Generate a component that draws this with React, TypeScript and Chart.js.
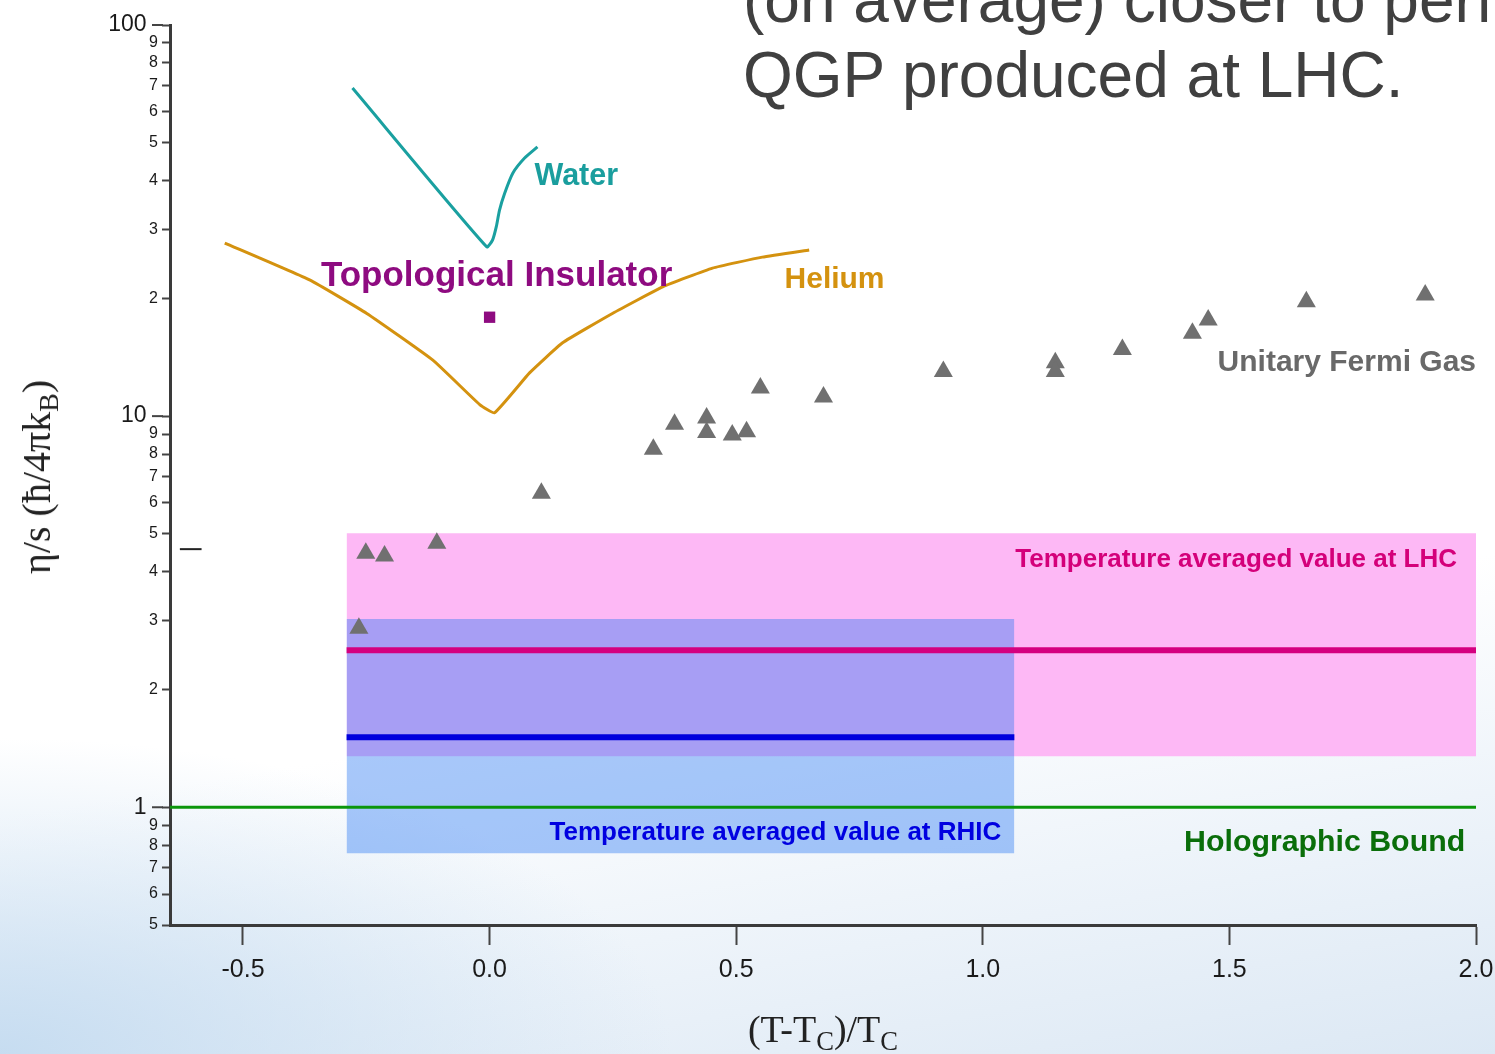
import React, { useEffect, useRef } from "react";
import { Chart, registerables } from "chart.js";

Chart.register(...registerables);

// ---------------- axes ----------------
const xRange = [-0.648, 2.0];
const yRange = [0.5, 100];
const xTickValues = [-0.5, 0.0, 0.5, 1.0, 1.5, 2.0];
const yTickValues = [0.5, 0.6, 0.7, 0.8, 0.9, 1, 2, 3, 4, 5, 6, 7, 8, 9, 10, 20, 30, 40, 50, 60, 70, 80, 90, 100];
const yMajorValues = [1, 10, 100];

// ---------------- series ----------------
const heliumX = [-0.537, -0.365, -0.249, -0.115, -0.02, 0.01, 0.081, 0.148, 0.249, 0.351, 0.452, 0.553, 0.648];
const heliumY = [27.7, 22.3, 18.3, 13.9, 10.7, 10.2, 12.9, 15.4, 18.3, 21.4, 23.9, 25.5, 26.6];

const waterX = [-0.278, -0.006, 0.006, 0.0136, 0.02, 0.0304, 0.047, 0.071, 0.097];
const waterY = [69.0, 27.1, 28.2, 30.5, 33.6, 37.1, 41.8, 45.7, 48.8];

const fermiX = [-0.265, -0.251, -0.213, -0.107, 0.105, 0.332, 0.375, 0.44, 0.44, 0.492, 0.521, 0.549, 0.677, 0.92, 1.147, 1.147, 1.283, 1.425, 1.457, 1.656, 1.897];
const fermiY = [2.87, 4.46, 4.39, 4.73, 6.35, 8.23, 9.54, 9.89, 9.08, 8.95, 9.12, 11.8, 11.2, 13.0, 13.7, 13.0, 14.8, 16.3, 17.6, 19.6, 20.4];

const topoX = [0.0];
const topoY = [17.9];

const lhcBandX = [-0.29, 2.0];
const lhcBandY = [1.35, 5.02]; // bottom, top
const lhcMean = 2.52;

const rhicBandX = [-0.29, 1.064];
const rhicBandY = [0.763, 3.03]; // bottom, top
const rhicMean = 1.51;

const holoBound = 1.0;

const refMarkX = [-0.628, -0.584];
const refMarkY = 4.57;

// ---------------- text labels ----------------
const labelTexts = [
  "Water",
  "Topological Insulator",
  "Helium",
  "Unitary Fermi Gas",
  "Temperature averaged value at LHC",
  "Temperature averaged value at RHIC",
  "Holographic Bound",
];
// anchor (data coordinates) and style for each label
const labelLayout = [
  { x: 0.091, y: 41.0, align: "left", size: 30.5, color: "#1A9E9E" },
  { x: 0.0142, y: 22.8, align: "center", size: 35, color: "#8E0B80" },
  { x: 0.598, y: 22.3, align: "left", size: 30, color: "#D4920F" },
  { x: 2.0, y: 13.66, align: "right", size: 30, color: "#696969" },
  { x: 1.9615, y: 4.28, align: "right", size: 26, color: "#D4007A" },
  { x: 1.0375, y: 0.858, align: "right", size: 26, color: "#0000E0" },
  { x: 1.978, y: 0.814, align: "right", size: 30.3, color: "#0A6E0A" },
];

const FONT = '"Liberation Sans", Arial, Helvetica, sans-serif';
const SERIF = '"Liberation Serif", "Times New Roman", Times, serif';

const pts = (xs: number[], ys: number[]) => xs.map((x, i) => ({ x, y: ys[i] }));
const hline = (xs: number[], y: number) => xs.map((x) => ({ x, y }));

const annotationPlugin = {
  id: "annotations",
  afterDatasetsDraw(chart: any) {
    const { ctx, chartArea, scales } = chart;
    const xs = scales.x;
    const ys = scales.y;
    ctx.save();
    // longer major ticks on the y axis
    ctx.strokeStyle = "#444";
    ctx.lineWidth = 2;
    yMajorValues.forEach((v) => {
      const py = ys.getPixelForValue(v);
      ctx.beginPath();
      ctx.moveTo(chartArea.left - 18, py);
      ctx.lineTo(chartArea.left - 7, py);
      ctx.stroke();
    });
    // labels
    labelTexts.forEach((t, i) => {
      const l = labelLayout[i];
      ctx.font = `bold ${l.size}px ${FONT}`;
      ctx.fillStyle = l.color;
      ctx.textAlign = l.align;
      ctx.textBaseline = "middle";
      ctx.fillText(t, xs.getPixelForValue(l.x), ys.getPixelForValue(l.y));
    });
    ctx.restore();
  },
};

export default function App() {
  const ref = useRef<HTMLCanvasElement>(null);

  useEffect(() => {
    const canvas = ref.current;
    if (!canvas) return;
    const transparent = "rgba(0,0,0,0)";
    const chart = new Chart(canvas, {
      type: "scatter",
      data: {
        datasets: [
          {
            label: "Unitary Fermi Gas",
            data: pts(fermiX, fermiY),
            pointStyle: "triangle",
            pointRadius: 11,
            pointHoverRadius: 11,
            pointBackgroundColor: "#707070",
            pointBorderColor: "#707070",
            pointBorderWidth: 0,
            showLine: false,
            order: 1,
          },
          {
            label: "Topological Insulator",
            data: pts(topoX, topoY),
            pointStyle: "rect",
            pointRadius: 8,
            pointHoverRadius: 8,
            pointBackgroundColor: "#8E0B80",
            pointBorderWidth: 0,
            showLine: false,
            order: 2,
          },
          {
            label: "Water",
            data: pts(waterX, waterY),
            showLine: true,
            borderColor: "#1AA0A0",
            borderWidth: 3,
            pointRadius: 0,
            pointHoverRadius: 0,
            tension: 0.2,
            order: 3,
          },
          {
            label: "Helium",
            data: pts(heliumX, heliumY),
            showLine: true,
            borderColor: "#D4920F",
            borderWidth: 3,
            pointRadius: 0,
            pointHoverRadius: 0,
            tension: 0.12,
            order: 4,
          },
          {
            label: "Holographic Bound",
            data: hline([xRange[0], xRange[1]], holoBound),
            showLine: true,
            borderColor: "#0B960B",
            borderWidth: 3,
            pointRadius: 0,
            pointHoverRadius: 0,
            order: 5,
          },
          {
            label: "RHIC mean",
            data: hline(rhicBandX, rhicMean),
            showLine: true,
            borderColor: "#0000DD",
            borderWidth: 6,
            pointRadius: 0,
            pointHoverRadius: 0,
            order: 6,
          },
          {
            label: "LHC mean",
            data: hline(lhcBandX, lhcMean),
            showLine: true,
            borderColor: "#D4007F",
            borderWidth: 6,
            pointRadius: 0,
            pointHoverRadius: 0,
            order: 7,
          },
          {
            label: "RHIC band",
            data: hline(rhicBandX, rhicBandY[1]),
            showLine: true,
            borderColor: transparent,
            borderWidth: 0,
            pointRadius: 0,
            pointHoverRadius: 0,
            fill: "+1",
            backgroundColor: "rgba(44,122,244,0.41)",
            order: 8,
          },
          {
            label: "RHIC band bottom",
            data: hline(rhicBandX, rhicBandY[0]),
            showLine: true,
            borderColor: transparent,
            borderWidth: 0,
            pointRadius: 0,
            pointHoverRadius: 0,
            order: 8,
          },
          {
            label: "LHC band",
            data: hline(lhcBandX, lhcBandY[1]),
            showLine: true,
            borderColor: transparent,
            borderWidth: 0,
            pointRadius: 0,
            pointHoverRadius: 0,
            fill: "+1",
            backgroundColor: "rgb(253,184,245)",
            order: 9,
          },
          {
            label: "LHC band bottom",
            data: hline(lhcBandX, lhcBandY[0]),
            showLine: true,
            borderColor: transparent,
            borderWidth: 0,
            pointRadius: 0,
            pointHoverRadius: 0,
            order: 9,
          },
          {
            label: "reference mark",
            data: hline(refMarkX, refMarkY),
            showLine: true,
            borderColor: "#222",
            borderWidth: 2,
            pointRadius: 0,
            pointHoverRadius: 0,
            order: 1,
          },
        ],
      } as any,
      options: {
        responsive: false,
        animation: false,
        devicePixelRatio: 1,
        events: [],
        layout: { padding: { left: 0, top: 25, right: 19, bottom: 0 } },
        plugins: {
          legend: { display: false },
          tooltip: { enabled: false },
        },
        scales: {
          x: {
            type: "linear",
            position: "bottom",
            min: xRange[0],
            max: xRange[1],
            afterBuildTicks: (s: any) => {
              s.ticks = xTickValues.map((v) => ({ value: v }));
            },
            afterFit: (s: any) => {
              s.height = 129;
              s.paddingLeft = 0;
              s.paddingRight = 0;
            },
            ticks: {
              callback: (v: any) => Number(v).toFixed(1),
              font: { family: FONT, size: 25 },
              color: "#1a1a1a",
              padding: 10,
              maxRotation: 0,
              autoSkip: false,
            },
            grid: { drawOnChartArea: false, tickLength: 20, tickWidth: 2, tickColor: "#444" },
            border: { display: true, width: 3, color: "#3a3a3a" },
          },
          y: {
            type: "logarithmic",
            position: "left",
            min: yRange[0],
            max: yRange[1],
            afterBuildTicks: (s: any) => {
              s.ticks = yTickValues.map((v) => ({ value: v, major: yMajorValues.includes(v) }));
            },
            afterFit: (s: any) => {
              s.width = 170;
              s.paddingTop = 0;
              s.paddingBottom = 0;
            },
            ticks: {
              autoSkip: false,
              padding: 4,
              color: "#1a1a1a",
              callback: (v: any) => {
                const val = Number(v);
                if (yMajorValues.includes(val)) return String(val) + "\u2002";
                const d = Math.round(val / Math.pow(10, Math.floor(Math.log10(val) + 1e-9)));
                return String(d);
              },
              font: (c: any) => {
                const val = c.tick ? Number(c.tick.value) : 0;
                return { family: FONT, size: yMajorValues.includes(val) ? 23 : 16 };
              },
            },
            grid: { drawOnChartArea: false, tickLength: 8, tickWidth: 2, tickColor: "#444" },
            border: { display: true, width: 3, color: "#3a3a3a" },
          },
        },
      } as any,
      plugins: [annotationPlugin],
    });
    return () => chart.destroy();
  }, []);

  const subStyle = { fontSize: "70%", verticalAlign: "-0.3em", lineHeight: 0 };

  return (
    <div
      style={{
        position: "fixed",
        left: 0,
        top: 0,
        width: 1495,
        height: 1054,
        overflow: "hidden",
        background:
          "radial-gradient(ellipse 45% 30% at 0% 100%, rgba(196,219,240,0.95), rgba(196,219,240,0) 100%), linear-gradient(170deg, #ffffff 0%, #ffffff 62%, #eef4fa 80%, #dce8f4 100%)",
      }}
    >
      <canvas ref={ref} width={1495} height={1054} style={{ position: "absolute", left: 0, top: 0 }} />
      <div
        style={{
          position: "absolute",
          left: 743,
          top: -37,
          fontFamily: FONT,
          fontSize: 64,
          lineHeight: "75px",
          color: "#404040",
          whiteSpace: "nowrap",
        }}
      >
        (on average) closer to perfect
        <br />
        QGP produced at LHC.
      </div>
      <div
        style={{
          position: "absolute",
          left: 37,
          top: 477,
          transform: "translate(-50%, -50%) rotate(-90deg)",
          fontFamily: SERIF,
          fontSize: 40,
          lineHeight: "40px",
          color: "#222",
          whiteSpace: "nowrap",
        }}
      >
        η/s (ħ/4πk<sub style={subStyle}>B</sub>)
      </div>
      <div
        style={{
          position: "absolute",
          left: 823,
          top: 1010,
          transform: "translateX(-50%)",
          fontFamily: SERIF,
          fontSize: 38,
          lineHeight: "38px",
          color: "#222",
          whiteSpace: "nowrap",
        }}
      >
        (T-T<sub style={subStyle}>C</sub>)/T<sub style={subStyle}>C</sub>
      </div>
    </div>
  );
}
